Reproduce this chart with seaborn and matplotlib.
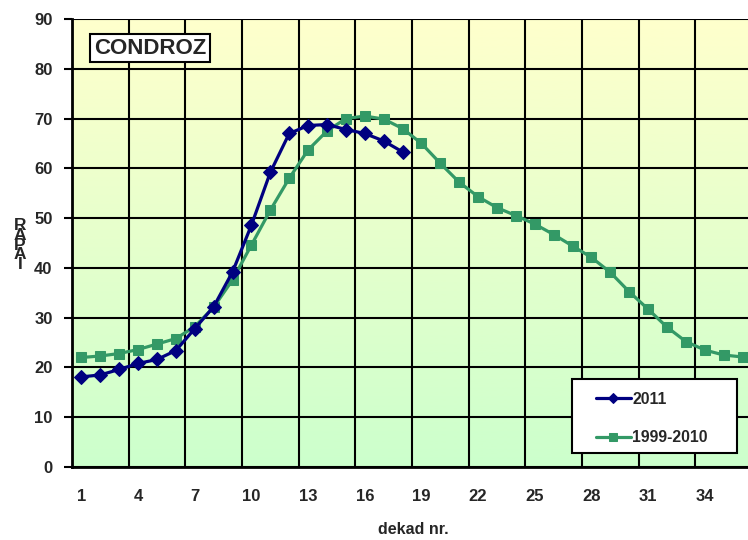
import numpy as np
import pandas as pd
import matplotlib
matplotlib.use("Agg")
import matplotlib.pyplot as plt
import seaborn as sns
from matplotlib.colors import LinearSegmentedColormap
from matplotlib.patches import Rectangle

# data
dekad_2011 = list(range(1, 19))
rapai_2011 = [18.1, 18.5, 19.6, 20.8, 21.6, 23.4, 27.8, 32.2, 39.2, 48.6,
              59.2, 67.0, 68.6, 68.8, 67.8, 67.0, 65.5, 63.3]

dekad_ref = list(range(1, 37))
rapai_ref = [22.0, 22.3, 22.8, 23.6, 24.7, 25.8, 28.2, 32.1, 37.6, 44.6,
             51.6, 58.0, 63.7, 67.5, 70.0, 70.5, 69.9, 68.0, 65.0, 61.0,
             57.2, 54.3, 52.1, 50.5, 48.8, 46.7, 44.4, 42.1, 39.1, 35.2,
             31.7, 28.1, 25.2, 23.5, 22.5, 22.1]

x_ticks = list(range(1, 35, 3))
y_ticks = list(range(0, 100, 10))

df_2011 = pd.DataFrame({"dekad": dekad_2011, "rapai": rapai_2011})
df_ref = pd.DataFrame({"dekad": dekad_ref, "rapai": rapai_ref})

sns.set_style("white")
plt.rcParams['font.family'] = ['Liberation Sans', 'DejaVu Sans']
plt.rcParams['font.weight'] = 'bold'

fig = plt.figure(figsize=(7.48, 5.40), dpi=100)
ax = fig.add_axes([72 / 748, 1 - 467 / 540, 680 / 748, 448 / 540])

# gradient background: pale yellow top -> light green bottom
cmap = LinearSegmentedColormap.from_list("bg", ["#ccffcc", "#ffffcc"])
grad = np.linspace(0, 1, 256).reshape(-1, 1)
ax.imshow(grad, cmap=cmap, aspect="auto", origin="lower",
          extent=[0, 1, 0, 1], transform=ax.transAxes, zorder=0)

sns.lineplot(data=df_2011, x="dekad", y="rapai", ax=ax, color="#000080",
             marker="D", markersize=7, linewidth=2.3, markeredgecolor="#000080",
             label="2011", zorder=4)
sns.lineplot(data=df_ref, x="dekad", y="rapai", ax=ax, color="#339966",
             marker="s", markersize=6.5, linewidth=2.3, markeredgecolor="#339966",
             label="1999-2010", zorder=3)

ax.set_xlim(0.5, 36.5)
ax.set_ylim(0, 90)
ax.set_xticks(x_ticks)
ax.set_xticks(np.arange(0.5, 37, 3), minor=True)
ax.set_yticks(y_ticks)
ax.tick_params(axis="x", which="major", length=0, labelsize=12, pad=16)
ax.tick_params(axis="x", which="minor", length=4, width=1.5, color="black")
ax.tick_params(axis="y", length=6, width=1.5, color="black", labelsize=12, pad=8,
               left=True)
for lab in ax.get_xticklabels() + ax.get_yticklabels():
    lab.set_fontweight("bold")

ax.grid(False)
ax.grid(True, axis="x", which="minor", color="black", linewidth=1.5, zorder=1)
ax.grid(True, axis="y", which="major", color="black", linewidth=1.5, zorder=1)
ax.set_axisbelow(False)
for line in ax.get_xgridlines() + ax.get_ygridlines():
    line.set_zorder(1)

for s in ["top", "right"]:
    ax.spines[s].set_visible(False)
for s in ["left", "bottom"]:
    ax.spines[s].set_linewidth(2)
    ax.spines[s].set_color("black")

ax.set_xlabel("")
ax.set_ylabel("")
fig.text(413 / 748, 1 - 530 / 540, "dekad nr.", ha="center", va="center",
         fontsize=11.5, fontweight="bold")
fig.text(20 / 748, 1 - 245 / 540, "R\nA\nP\nA\nI", ha="center", va="center",
         fontsize=12.5, fontweight="bold", linespacing=0.55)

ax.text(94 / 748, 1 - 48 / 540, "CONDROZ", transform=fig.transFigure,
        fontsize=16, fontweight="bold", va="center", ha="left", zorder=6,
        bbox=dict(boxstyle="square,pad=0.17", facecolor="white",
                  edgecolor="black", linewidth=1.5))

# legend box drawn as a separate frame, entries placed inside it
ax.add_patch(Rectangle((572 / 748, 1 - 453 / 540), 165 / 748, 74 / 540,
                       transform=fig.transFigure, facecolor="white",
                       edgecolor="black", linewidth=1.5, zorder=6,
                       clip_on=False))
leg = ax.legend(loc="center left", bbox_to_anchor=(596 / 748, 1 - 418.5 / 540),
                bbox_transform=fig.transFigure, frameon=False,
                fontsize=11.3, labelspacing=1.5, handlelength=2.2,
                borderpad=0, handletextpad=0.1, borderaxespad=0,
                markerscale=0.8)
leg.set_zorder(7)
for t in leg.get_texts():
    t.set_fontweight("bold")

fig.savefig("out.png", dpi=100)
